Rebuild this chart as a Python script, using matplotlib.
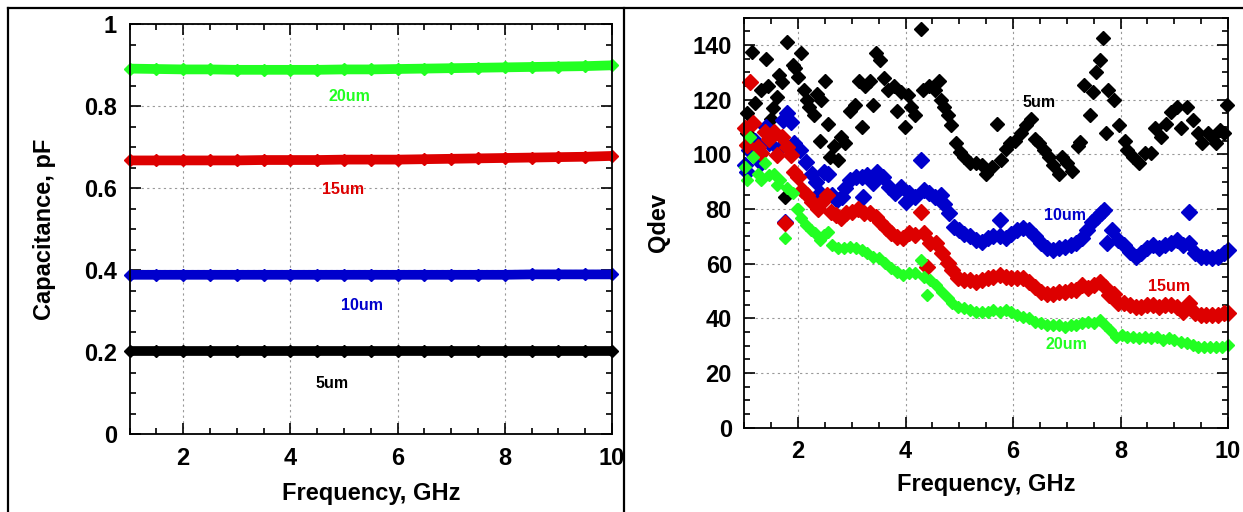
import numpy as np
import matplotlib
matplotlib.use('Agg')
import matplotlib.pyplot as plt
from matplotlib.ticker import MultipleLocator
from matplotlib.lines import Line2D

plt.rcParams['font.family'] = ['Liberation Sans', 'DejaVu Sans']
plt.rcParams['font.weight'] = 'bold'

# %% left panel: capacitance vs frequency
f_cap = np.arange(1.0, 10.01, 0.5)
cap_20um = [0.892, 0.891, 0.890, 0.890, 0.889, 0.889, 0.889, 0.889, 0.890, 0.890,
            0.891, 0.892, 0.893, 0.894, 0.895, 0.896, 0.897, 0.898, 0.900]
cap_15um = [0.668, 0.668, 0.668, 0.668, 0.668, 0.669, 0.669, 0.669, 0.670, 0.670,
            0.670, 0.671, 0.672, 0.673, 0.674, 0.675, 0.676, 0.677, 0.679]
cap_10um = [0.389, 0.389, 0.389, 0.389, 0.389, 0.389, 0.389, 0.389, 0.389, 0.389,
            0.389, 0.389, 0.389, 0.389, 0.389, 0.390, 0.390, 0.390, 0.390]
cap_5um = [0.203] * 19

# %% right panel: Qdev vs frequency
f_5um = [1.04, 1.05, 1.14, 1.20, 1.31, 1.40, 1.44, 1.50, 1.53, 1.60, 1.65, 1.70, 1.75, 1.79,
         1.91, 1.95, 2.00, 2.06, 2.11, 2.17, 2.20, 2.30, 2.35, 2.40, 2.42, 2.50, 2.55, 2.60,
         2.66, 2.74, 2.80, 2.88, 2.96, 3.05, 3.14, 3.19, 3.25, 3.34, 3.40, 3.45, 3.53, 3.60,
         3.68, 3.79, 3.84, 3.91, 3.98, 4.04, 4.10, 4.18, 4.29, 4.33, 4.43, 4.54, 4.62, 4.65,
         4.72, 4.79, 4.85, 4.94, 5.01, 5.09, 5.20, 5.31, 5.42, 5.49, 5.60, 5.71, 5.78, 5.86,
         5.95, 6.04, 6.15, 6.25, 6.33, 6.41, 6.48, 6.58, 6.66, 6.74, 6.85, 6.92, 7.00, 7.10,
         7.20, 7.25, 7.32, 7.43, 7.49, 7.54, 7.62, 7.68, 7.73, 7.76, 7.87, 7.98, 8.08, 8.13,
         8.24, 8.34, 8.45, 8.57, 8.65, 8.75, 8.84, 8.94, 9.05, 9.12, 9.23, 9.34, 9.45, 9.52,
         9.62, 9.71, 9.78, 9.86, 9.93, 9.98]
q_5um = [115, 108, 137.6, 118.7, 123.5, 135, 125, 113, 117, 121, 129, 126.6, 84.5, 141,
         132.7, 131.5, 128.4, 137, 123.5, 120, 117.4, 114.4, 122, 105, 120, 127, 111, 99,
         103, 98, 106.5, 104, 116, 118, 127, 110, 125, 127, 118, 137, 134.5, 128,
         123.5, 125, 116, 123, 110, 121.7, 117.4, 114.4, 146, 123.5, 125, 123.5, 127, 120,
         117.4, 114.4, 110.7, 104, 101, 99, 96.7, 96.7, 96, 93, 95.5, 111, 98, 102,
         104, 105, 108, 110.7, 113, 105.8, 104, 101.6, 99, 96, 93, 99, 96.7, 94,
         103, 104.6, 125.4, 114.4, 123, 130, 134.5, 142.4, 108, 123.5, 120, 110.7, 105, 101.6,
         99, 96.7, 100.4, 100.4, 109.5, 106.5, 111, 115.6, 117.4, 109.5, 117.4, 112.6, 108, 104,
         108, 106.5, 104, 109, 107.7, 118]

f_10um = [1.01, 1.05, 1.09, 1.20, 1.31, 1.40, 1.45, 1.55, 1.65, 1.71, 1.75, 1.79, 1.86, 1.93,
          2.04, 2.15, 2.26, 2.34, 2.41, 2.48, 2.56, 2.63, 2.72, 2.81, 2.88, 2.97, 3.07, 3.18,
          3.20, 3.29, 3.40, 3.47, 3.58, 3.69, 3.80, 3.91, 4.00, 4.07, 4.17, 4.29, 4.34, 4.43,
          4.54, 4.65, 4.72, 4.81, 4.90, 5.00, 5.09, 5.20, 5.31, 5.42, 5.53, 5.63, 5.75, 5.75,
          5.86, 5.97, 6.08, 6.19, 6.30, 6.41, 6.52, 6.63, 6.74, 6.85, 6.96, 7.07, 7.17, 7.29,
          7.38, 7.47, 7.56, 7.64, 7.69, 7.74, 7.84, 7.95, 8.06, 8.17, 8.28, 8.39, 8.50, 8.61,
          8.72, 8.82, 8.94, 9.05, 9.16, 9.27, 9.27, 9.38, 9.49, 9.60, 9.71, 9.82, 9.93, 10.0]
q_10um = [96, 93.7, 101.6, 105, 96.7, 110, 104, 107.7, 102, 112.6, 75.4, 115, 112, 104,
          101.6, 97.3, 93, 90, 85.7, 93.7, 93, 85, 83.3, 84.5, 87.6, 90.6, 91.8, 91.8,
          84.5, 92.4, 89.4, 93.7, 91.8, 88, 85.7, 88, 82.7, 85.7, 84.5, 98, 87, 85.7,
          84.5, 85, 82, 78.4, 73.5, 72.3, 71, 70, 68.7, 68, 69.3, 70, 70, 76,
          69.3, 71, 72.3, 73, 72.3, 70, 67.4, 65.6, 65, 65.6, 66.2, 66.8, 67.4, 69.3,
          72.3, 75.4, 77.2, 78.4, 79.6, 67.4, 72.3, 68.7, 66.8, 64.4, 62.6, 63.8, 65.6, 66.8,
          65.6, 66.8, 67.4, 68.7, 66.8, 67.4, 79, 63.8, 62.6, 62.6, 62, 62.6, 63.8, 65]

f_15um = [1.01, 1.05, 1.11, 1.16, 1.26, 1.31, 1.38, 1.45, 1.55, 1.60, 1.70, 1.75, 1.80, 1.86,
          1.92, 2.00, 2.08, 2.17, 2.26, 2.37, 2.45, 2.53, 2.61, 2.70, 2.80, 2.89, 3.00, 3.11,
          3.22, 3.33, 3.44, 3.53, 3.63, 3.73, 3.84, 3.95, 4.06, 4.17, 4.29, 4.35, 4.40, 4.46,
          4.57, 4.68, 4.78, 4.87, 4.98, 5.09, 5.20, 5.31, 5.42, 5.53, 5.63, 5.75, 5.86, 5.97,
          6.08, 6.19, 6.30, 6.41, 6.52, 6.63, 6.74, 6.85, 6.96, 7.07, 7.17, 7.29, 7.40, 7.51,
          7.62, 7.71, 7.79, 7.87, 7.96, 8.06, 8.17, 8.28, 8.39, 8.50, 8.61, 8.72, 8.82, 8.94,
          9.05, 9.16, 9.27, 9.38, 9.49, 9.60, 9.71, 9.82, 9.93, 10.0]
q_15um = [109.5, 103.4, 126.6, 111.3, 102.8, 100.4, 108.3, 105.8, 108.3, 99.8, 106.5, 74.8, 102.8, 99.8,
          93.7, 91.8, 87, 85, 82.7, 80.2, 82.7, 85, 79, 77.8, 76.6, 78.4, 79, 80.2,
          78.4, 78.4, 77.2, 75.4, 72.9, 71.1, 69.9, 69.3, 71.1, 70.5, 79, 71.1, 58.9, 67.4,
          67.4, 63.8, 60.1, 57.7, 54.6, 54, 54, 53.4, 54, 54.6, 55.2, 55.9, 55.2, 54.6,
          54.6, 54.6, 53.4, 51.6, 49.8, 49.1, 49.1, 49.8, 49.8, 50.4, 50.4, 52.2, 51, 52.2,
          53.4, 51.6, 48.5, 49.1, 45.5, 45.5, 44.9, 44.3, 44.3, 44.9, 44.9, 44.3, 44.9, 44.9,
          44.3, 42.4, 45.5, 41.8, 41.2, 41.2, 41.2, 41.2, 41.8, 41.8]

f_20um = [1.01, 1.05, 1.11, 1.16, 1.26, 1.31, 1.38, 1.45, 1.55, 1.60, 1.67, 1.75, 1.80, 1.90,
          1.97, 2.00, 2.06, 2.14, 2.23, 2.31, 2.41, 2.48, 2.56, 2.63, 2.74, 2.85, 2.96, 3.07,
          3.18, 3.29, 3.40, 3.51, 3.62, 3.73, 3.84, 3.95, 4.06, 4.17, 4.29, 4.35, 4.40, 4.46,
          4.57, 4.68, 4.78, 4.87, 4.98, 5.09, 5.20, 5.31, 5.42, 5.53, 5.63, 5.75, 5.86, 5.97,
          6.08, 6.19, 6.30, 6.41, 6.52, 6.63, 6.74, 6.85, 6.96, 7.07, 7.17, 7.29, 7.40, 7.51,
          7.62, 7.71, 7.81, 7.91, 8.02, 8.13, 8.24, 8.35, 8.46, 8.57, 8.68, 8.79, 8.90, 9.00,
          9.12, 9.23, 9.34, 9.45, 9.56, 9.67, 9.78, 9.89, 10.0]
q_20um = [95.5, 90.6, 106.5, 99, 93, 90.6, 96.7, 92.4, 93, 88.8, 90.6, 69.3, 87.6, 85.7,
          80.2, 80.2, 76.6, 74.1, 72.3, 71.1, 68.7, 70.5, 71.7, 66.8, 65.6, 65.6, 66.2, 65.6,
          65, 63.8, 62.6, 62, 60.1, 58.3, 57.1, 55.9, 56.5, 56.5, 61.3, 55.2, 48.5, 54,
          52.2, 49.8, 47.3, 45.5, 44.3, 43.7, 43, 42.4, 42.4, 42.4, 43, 42.4, 43, 42.4,
          41.2, 40.6, 40, 38.8, 38.2, 37.6, 37.6, 37.6, 37, 37.6, 37.6, 38.2, 38.8, 38.2,
          39.4, 37.6, 35.7, 33.3, 33.9, 33.3, 33.3, 32.7, 33.3, 32.7, 33.3, 32, 32.7, 32,
          31.5, 30.9, 30.2, 29.6, 29.6, 29.6, 29.6, 29.6, 30.2]

c_black = 'black'
c_blue = '#0000cc'
c_red = '#dd0000'
c_green = '#22ff22'

fig = plt.figure(figsize=(12.43, 5.12), dpi=100)


def style_axis(ax, ymax, ymajor, yminor):
    ax.set_xlim(1, 10)
    ax.set_ylim(0, ymax)
    ax.xaxis.set_major_locator(MultipleLocator(2))
    ax.xaxis.set_minor_locator(MultipleLocator(0.5))
    ax.yaxis.set_major_locator(MultipleLocator(ymajor))
    ax.yaxis.set_minor_locator(MultipleLocator(yminor))
    ax.tick_params(which='both', direction='in', top=True, right=True, width=1.2)
    ax.tick_params(which='major', length=8, labelsize=17, pad=9)
    ax.tick_params(which='minor', length=4)
    ax.grid(True, which='major', color='#999999', linestyle=(0, (2, 3)), linewidth=0.8)
    for sp in ax.spines.values():
        sp.set_linewidth(1.3)
    ax.set_axisbelow(True)


# left panel
ax1 = fig.add_axes([0.1042, 0.1518, 0.3882, 0.8007])
for vals, col in [(cap_5um, c_black), (cap_10um, c_blue), (cap_15um, c_red), (cap_20um, c_green)]:
    ax1.plot(f_cap, vals, color=col, linewidth=7, marker='D', markersize=6,
             solid_capstyle='butt', clip_on=False)
style_axis(ax1, 1.0, 0.2, 0.05)
ax1.set_yticks([0, 0.2, 0.4, 0.6, 0.8, 1.0])
ax1.set_yticklabels(['0', '0.2', '0.4', '0.6', '0.8', '1'])
ax1.set_xlabel('Frequency, GHz', fontsize=17, fontweight='bold', labelpad=9)
ax1.set_ylabel('Capacitance, pF', fontsize=17, fontweight='bold', labelpad=20)
lab_kw = dict(fontsize=11.5, fontweight='bold', ha='center', va='center')
ax1.text(5.11, 0.825, '20um', color=c_green, **lab_kw)
ax1.text(4.98, 0.596, '15um', color=c_red, **lab_kw)
ax1.text(5.34, 0.313, '10um', color=c_blue, **lab_kw)
ax1.text(4.78, 0.123, '5um', color=c_black, **lab_kw)

# right panel
ax2 = fig.add_axes([0.5989, 0.1646, 0.389, 0.8008])
ax2.plot(f_5um, q_5um, linestyle='none', marker='D', markersize=7.5, color=c_black, clip_on=False)
ax2.plot(f_10um, q_10um, linestyle='none', marker='D', markersize=8, color=c_blue, clip_on=False)
ax2.plot(f_15um, q_15um, linestyle='none', marker='D', markersize=8, color=c_red, clip_on=False)
ax2.plot(f_20um, q_20um, linestyle='none', marker='D', markersize=6.5, color=c_green, clip_on=False)
style_axis(ax2, 150, 20, 5)
ax2.set_xlabel('Frequency, GHz', fontsize=17, fontweight='bold', labelpad=7)
ax2.set_ylabel('Qdev', fontsize=17, fontweight='bold', labelpad=16)
ax2.text(6.49, 118.8, '5um', color=c_black, **lab_kw)
ax2.text(6.96, 77.5, '10um', color=c_blue, **lab_kw)
ax2.text(8.91, 51.8, '15um', color=c_red, **lab_kw)
ax2.text(6.99, 30.3, '20um', color=c_green, **lab_kw)

# panel frame lines
W, H = 1243.0, 512.0
fig.add_artist(Line2D([8 / W, 8 / W], [0, 1 - 8 / H], color='black', linewidth=1.6))
fig.add_artist(Line2D([8 / W, 1], [1 - 8 / H, 1 - 8 / H], color='black', linewidth=1.6))
fig.add_artist(Line2D([624 / W, 624 / W], [0, 1 - 8 / H], color='black', linewidth=1.6))

fig.savefig('out.png', dpi=100)
